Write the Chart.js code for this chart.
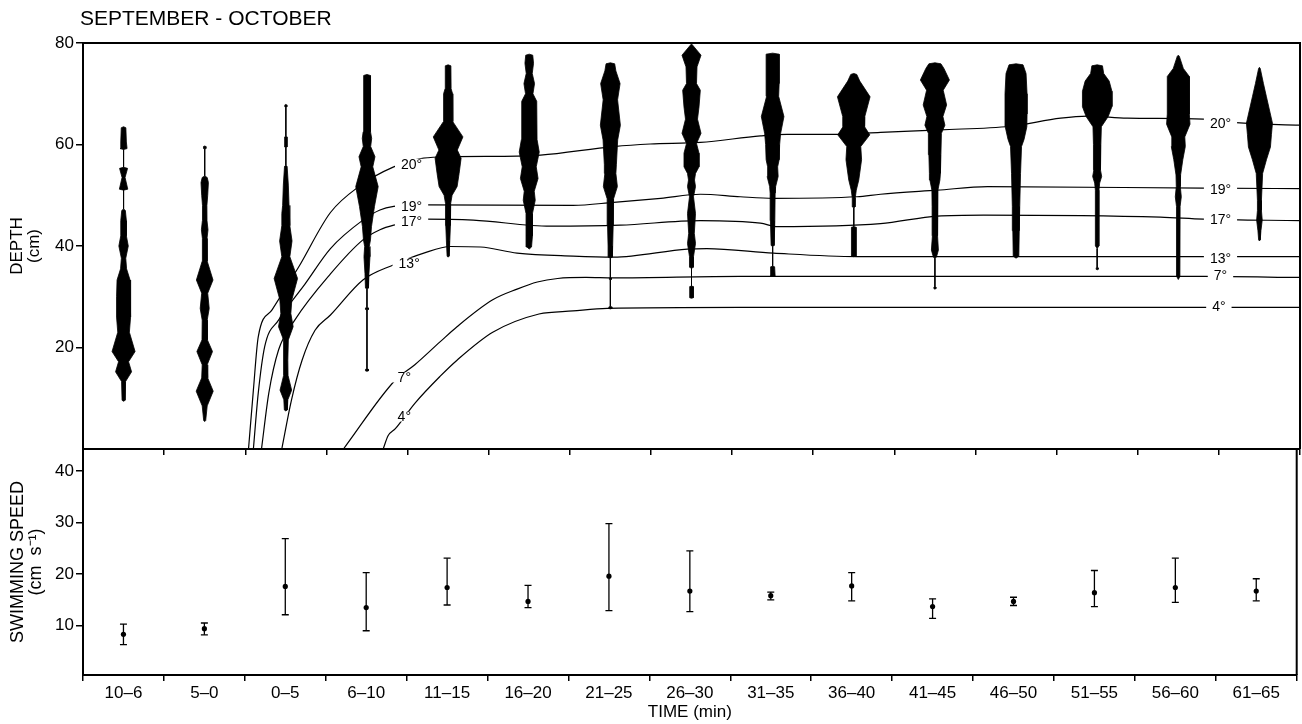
<!DOCTYPE html>
<html>
<head>
<meta charset="utf-8">
<script src="https://cdn.jsdelivr.net/npm/chart.js@4.4.0/dist/chart.umd.min.js"></script>
<style>
  html, body { margin: 0; padding: 0; background: #fff; }
  #wrap { position: relative; width: 1302px; height: 724px; }
  canvas { position: absolute; left: 0; }
  #depthChart { top: 0; }
  #speedChart { top: 440px; }
</style>
</head>
<body>
<div id="wrap">
  <canvas id="depthChart" width="1302" height="456"></canvas>
  <canvas id="speedChart" width="1302" height="284"></canvas>
</div>
<script>
// Time classes (min relative to exposure)
const categories = ['10–6', '5–0', '0–5', '6–10', '11–15', '16–20', '21–25', '26–30',
    '31–35', '36–40', '41–45', '46–50', '51–55', '56–60', '61–65'];

const figureTitle = 'SEPTEMBER - OCTOBER';
const depthTicks = [20, 40, 60, 80];
const speedTicks = [10, 20, 30, 40];

// Swimming speed (cm s-1): mean and range ends
const speedMean = [8.3, 9.4, 17.6, 13.5, 17.4, 14.7, 19.6, 16.7, 15.8, 17.7, 13.7, 14.7, 16.4, 17.4, 16.7];
const speedLow  = [6.3, 8.2, 12.1, 9.0, 14.0, 13.5, 12.9, 12.7, 15.0, 14.8, 11.4, 13.9, 13.7, 14.5, 14.8];
const speedHigh = [10.3, 10.5, 26.9, 20.3, 23.1, 17.8, 29.8, 24.5, 16.5, 20.3, 15.2, 15.5, 20.7, 23.1, 19.1];

// Depth distributions (kite diagrams): [depth cm, half-width in % of fish]
const kite10_6 = [[63.5,0],[63.3,2.3],[60.5,2.8],[59.2,3.5],[59,0],
    [55.5,0],[55.3,4],[53.5,1.5],[51.2,4.2],[51,0],
    [47.3,0],[47,1.8],[45,2.8],[42,2.8],[40,4.7],[37.6,2.2],[35.5,3],[33.3,6.5],[30,7],[26,7],
    [23,5.8],[19.2,11.5],[17.2,5],[15.2,8],[13.3,2],[9.6,1.5],[9.4,0]];
const kite5_0 = [[59.7,0],[59.6,1.2],[59.2,1.2],[59.1,0],
    [53.8,0],[53.5,2.5],[52.5,3.7],[50,3],[48,2.2],[45,2.3],[43.2,3.3],[41.5,2.3],[37,2.5],[33.3,8.3],
    [30.7,3],[27.7,4.5],[25.4,2.5],[21.5,2.7],[19.2,7.8],[16.6,2.5],[14,3],[11.4,8.5],[8.5,2.5],[5.6,1],[5.4,0]];
const kite0_5 = [[67.9,0],[67.8,1],[67.4,1],[67.3,0],
    [61.6,0],[61.5,1.2],[59.5,1.2],[59.4,0],
    [55.9,0],[55.7,1.3],[52,2.5],[48,3.2],[46.4,4],[44,4],[41,6.2],[37.9,4],[33.6,11.7],[29.4,6],
    [26.7,5],[24.1,7.3],[21.5,2.5],[17.5,2],[14.5,2.2],[11.6,5.8],[9.7,2],[7.7,1.5],[7.5,0]];
const kite6_10 = [[73.8,0],[73.6,3.3],[66,3.3],[62.5,3.8],[61.2,4.7],[59.6,3.7],[57.6,8],[55.6,5.8],
    [51.7,11.2],[47.8,7.5],[43.8,4.5],[41.2,3.5],[39.9,2.3],[37.9,3],[34.6,2],[31.7,1.5],[31.5,0],
    [27.9,0],[27.8,1.5],[27.5,1.5],[27.4,0],
    [15.8,0],[15.7,1.5],[15.4,1.5],[15.3,0]];
const kite11_15 = [[75.7,0],[75.5,2.8],[71,3],[70,4.5],[64.5,4.7],[61.5,14.8],[58.9,9.2],[57.3,13],
    [54.3,11],[51.7,9],[50,4],[48.4,2.6],[44,2.3],[41,1.7],[38,1],[37.8,0]];
const kite16_20 = [[77.8,0],[77.6,3.5],[76,4.3],[74,3],[72,5.3],[70,3.7],[68.5,7.5],[61,7.8],[58.5,10],
    [55.6,7],[53.3,8.8],[50.8,5],[49,6],[46.4,3.2],[42,3.2],[39.8,2.3],[39.4,0]];
const kite21_25 = [[76.1,0],[75.9,4.3],[74.5,5.5],[72,9.7],[68.8,7.2],[63.8,10],[60.9,7.3],[56,6],
    [54.3,5.5],[51.7,7],[49.3,3.2],[44,2.8],[40,2.3],[37.8,2],[37.6,0],
    [33.8,0],[33.7,1],[33.4,1],[33.3,0],
    [28.1,0],[28,1.5],[27.7,1.5],[27.6,0]];
const kite26_30 = [[79.8,0],[79.6,1],[77.6,9.5],[75.3,5.5],[72,5],[70.7,8.8],[67.4,7.5],[65,6],[62.2,9.5],
    [60.2,5],[58.3,7.5],[55.6,7.5],[54.3,4],[53,3],[51.7,4],[49.7,2],[46.4,4],[42.5,2.8],[40.5,4],
    [37.9,2],[35.8,1.8],[35.6,0],
    [32.1,0],[32,1.8],[29.8,1.8],[29.7,0]];
const kite31_35 = [[78,0],[77.8,6.5],[72,6.5],[69.5,6],[65.5,11.3],[62.2,8],[60,7],[57,6.5],[55.6,5],
    [53.7,5.5],[51.7,3],[50.4,2.5],[45,2.2],[40.1,1.5],[39.9,0],
    [36,0],[35.9,2],[34.1,2.5],[34,0]];
const kite36_40 = [[74,0],[73.8,3],[72.5,6],[69.4,16.3],[65.5,11],[63.5,10.8],[61.9,16],[59.6,7],[57,7.8],
    [53,5],[51,2.5],[49.5,1.5],[47.7,1.3],[47.5,0],
    [43.8,0],[43.7,2.3],[38,2.3],[37.9,0]];
const kite41_45 = [[76.1,0],[75.9,6],[75,9],[72.7,14.5],[70.7,8.3],[67.8,11.7],[65.5,8],[63.8,10],[62.2,6.5],
    [58,6],[54.3,5.5],[53,5],[51,3],[47.8,2.8],[42,2.5],[39.2,3.5],[37.8,1.5],[37.6,0],
    [32,0],[31.9,1],[31.6,1],[31.5,0]];
const kite46_50 = [[75.9,0],[75.7,7],[74,10],[70,11],[66,11],[63.5,10.8],[61,8],[59.6,5.5],[54.3,4.5],
    [47.8,3.7],[43,3.2],[38,2.8],[37.6,0]];
const kite51_55 = [[75.7,0],[75.5,5.3],[74,6.5],[72.5,12],[70.5,14.7],[67.5,14.8],[65.5,11],[63.5,4.2],
    [60,3.7],[55,3.3],[53.7,4.5],[52.4,2.5],[51,1.8],[40,1.7],[39.5,0],
    [35.8,0],[35.7,1],[35.4,1],[35.3,0]];
const kite56_60 = [[77.6,0],[77.4,1],[75,5],[73.4,11],[66,11],[64,11.7],[61.5,6.5],[59.6,7],[57,4.5],
    [54,2.3],[51.7,2],[49.7,3],[47.8,1.8],[34,1.6],[33.4,0]];
const kite61_65 = [[75.2,0],[75,0.8],[72,4],[69.4,7],[64.2,13],[62,12],[59.5,11],[57,7],[54.3,3.2],
    [49,2],[47,2],[45.1,2.8],[43,1.5],[41.2,0.8],[41,0]];

const kites = [kite10_6, kite5_0, kite0_5, kite6_10, kite11_15, kite16_20, kite21_25, kite26_30,
    kite31_35, kite36_40, kite41_45, kite46_50, kite51_55, kite56_60, kite61_65];

// Isotherms: [time class index, depth cm]
const iso20 = [[1.54,0],[1.60,11.6],[1.66,22.1],[1.83,27.4],[2.16,35.9],[2.55,46.6],[2.90,51.7],[3.33,55.6],
    [3.70,57.3],[4.03,57.6],[4.85,57.7],[5.14,57.9],[6.04,59.6],[6.49,60.1],[7.11,60.4],[7.85,61.7],
    [8.18,62],[8.83,62],[9.33,62.4],[10.07,62.9],[10.93,63.6],[11.55,65.2],[11.88,65.6],[12.37,65.2],
    [13.31,65],[13.71,64.3],[14.5,63.8]];
const iso19 = [[1.60,0],[1.66,11],[1.74,20.2],[1.91,25.4],[2.24,32.6],[2.55,39.5],[2.95,45.1],[3.16,47.1],
    [3.33,47.8],[3.72,48.1],[5.54,48],[6.04,48.6],[6.62,49.4],[7.11,50.2],[7.60,49.7],[8.01,49.4],
    [9.04,49.7],[9.33,50.2],[10.03,51],[10.65,51.7],[13.31,51.4],[14.5,51.3]];
const iso17 = [[1.70,0],[1.79,11],[1.91,19.5],[2.11,25.4],[2.55,34.5],[2.95,41.2],[3.16,43.2],[3.33,44.1],
    [3.72,45.3],[4.31,45.1],[5.26,43.9],[6.12,44.1],[7.11,45],[7.85,44.5],[8.06,43.8],[9.33,44.4],
    [10.03,45.9],[10.60,46.1],[12.78,45.7],[13.31,45.3],[14.5,45]];
const iso13 = [[1.95,0],[2.07,9.7],[2.20,17.5],[2.36,23.4],[2.55,26.4],[2.95,33.3],[3.33,36.3],[3.70,38.6],
    [4.03,39.9],[4.40,39.8],[4.85,38.6],[5.54,38],[6.04,37.8],[6.95,39.4],[7.19,39.5],[8.01,38.6],
    [9.04,37.9],[14.5,37.9]];
const iso7 = [[2.71,0],[3.35,13.6],[3.59,16.6],[3.90,21.1],[4.11,24.1],[4.55,29.4],[4.85,31.5],[5.10,32.9],
    [5.35,33.6],[5.70,33.8],[6.04,33.7],[7.60,34],[13.31,34],[14.5,33.8]];
const iso4 = [[3.20,0],[3.26,2.6],[3.35,4],[3.59,9],[3.90,14.3],[4.11,17.5],[4.55,23],[5.12,26.6],
    [5.54,27.2],[5.96,27.7],[7.60,27.9],[14.5,27.9]];

const isotherms = [iso20, iso19, iso17, iso13, iso7, iso4];
const isoNames = ['20°', '19°', '17°', '13°', '7°', '4°'];
// where the labels sit, [time class index, depth]
const isoLabelLeft  = [[3.55,56.2],[3.55,47.8],[3.55,44.8],[3.52,36.7],[3.46,14.1],[3.46,6.4]];
const isoLabelRight = [[13.52,64.3],[13.52,51.3],[13.52,45.3],[13.52,37.7],[13.52,34.2],[13.50,28.2]];

const KITE_SCALE = 1 / 81;   // time-class units per % of fish
const FONT = '"Liberation Sans", Arial, Helvetica, sans-serif';

Chart.defaults.font.family = FONT;
Chart.defaults.color = '#000';

function kiteOutline(profile, center) {
    const right = profile.map(([d, w]) => ({ x: center + w * KITE_SCALE, y: d }));
    const left = profile.slice().reverse().map(([d, w]) => ({ x: center - w * KITE_SCALE, y: d }));
    return right.concat(left);
}

const framePlugin = {
    id: 'frame',
    afterDraw(chart) {
        const { ctx, chartArea: a } = chart;
        ctx.save();
        ctx.strokeStyle = '#000';
        ctx.lineWidth = 2;
        ctx.beginPath();
        ctx.moveTo(a.left, a.top);
        ctx.lineTo(a.right, a.top);
        ctx.lineTo(a.right, a.bottom);
        ctx.stroke();
        ctx.restore();
    }
};

const titlePlugin = {
    id: 'panelTitle',
    afterDraw(chart) {
        const { ctx, chartArea } = chart;
        ctx.save();
        ctx.font = '21px ' + FONT;
        ctx.fillStyle = '#000';
        ctx.textBaseline = 'alphabetic';
        ctx.fillText(figureTitle, chartArea.left - 3, chartArea.top - 18);
        ctx.restore();
    }
};

const isoLabelPlugin = {
    id: 'isoLabels',
    afterDatasetsDraw(chart) {
        const { ctx, scales: { x, y } } = chart;
        ctx.save();
        ctx.font = '14px ' + FONT;
        ctx.textAlign = 'center';
        ctx.textBaseline = 'middle';
        isoNames.forEach((name, i) => {
            [isoLabelLeft[i], isoLabelRight[i]].forEach(([t, d]) => {
                const px = x.getPixelForValue(t);
                const py = y.getPixelForValue(d);
                const w = ctx.measureText(name).width + 12;
                ctx.fillStyle = '#fff';
                ctx.fillRect(px - w / 2, py - 5, w, 10);
                ctx.fillStyle = '#000';
                ctx.fillText(name, px, py + 1);
            });
        });
        ctx.restore();
    }
};

function timeAxis(showLabels, height) {
    return {
        type: 'linear',
        min: -0.5,
        max: 14.5,
        afterBuildTicks: (scale) => { scale.ticks = categories.map((c, i) => ({ value: i })); },
        afterFit: (scale) => {
            scale.height = height;
            scale.paddingLeft = 0;
            scale.paddingRight = 0;
        },
        ticks: {
            display: showLabels,
            autoSkip: false,
            maxRotation: 0,
            padding: 2,
            font: { size: 17 },
            callback: (value) => categories[value]
        },
        grid: { offset: true, drawOnChartArea: false, drawTicks: true, tickLength: 6, color: '#000', lineWidth: 1.5 },
        border: { display: true, color: '#000', width: 2 },
        title: {
            display: showLabels,
            text: 'TIME (min)',
            font: { size: 17, lineHeight: 1.0 },
            padding: { top: 0, bottom: 3 }
        }
    };
}

function valueAxis(min, max, tickValues, titleLines, titleSize, titlePad) {
    return {
        type: 'linear',
        min: min,
        max: max,
        afterBuildTicks: (scale) => { scale.ticks = tickValues.map(v => ({ value: v })); },
        afterFit: (scale) => {
            scale.width = 83;
            scale.paddingTop = 0;
            scale.paddingBottom = 0;
        },
        ticks: { padding: 2, font: { size: 17 } },
        grid: { drawOnChartArea: false, drawTicks: true, tickLength: 7, color: '#000', lineWidth: 1.5 },
        border: { display: true, color: '#000', width: 2 },
        title: {
            display: true,
            text: titleLines,
            font: { size: titleSize, lineHeight: 1.0 },
            padding: { top: titlePad, bottom: 0 }
        }
    };
}

const baseOptions = {
    responsive: false,
    animation: false,
    devicePixelRatio: 1,
    events: [],
    plugins: { legend: { display: false }, tooltip: { enabled: false } }
};

// Depth panel
const depthDatasets = kites.map((profile, i) => ({
    data: kiteOutline(profile, i),
    borderColor: '#000',
    borderWidth: 0.8,
    backgroundColor: '#000',
    fill: 'shape',
    pointRadius: 0,
    tension: 0
})).concat(isotherms.map(line => ({
    data: line.map(([t, d]) => ({ x: t, y: d })),
    borderColor: '#000',
    borderWidth: 1.2,
    fill: false,
    pointRadius: 0,
    cubicInterpolationMode: 'monotone'
})));

new Chart(document.getElementById('depthChart'), {
    type: 'line',
    data: { datasets: depthDatasets },
    options: {
        ...baseOptions,
        layout: { padding: { top: 43, right: 2, left: 0, bottom: 0 } },
        scales: {
            x: timeAxis(false, 7),
            y: valueAxis(0, 80, depthTicks, ['DEPTH', '(cm)'], 17, 8.5)
        }
    },
    plugins: [isoLabelPlugin, framePlugin, titlePlugin]
});

// Swimming speed panel
const errorBarData = speedLow.flatMap((lo, i) => [
    { x: i, y: lo }, { x: i, y: speedHigh[i] }, { x: i, y: null }
]);

new Chart(document.getElementById('speedChart'), {
    type: 'line',
    data: {
        datasets: [
            {
                data: errorBarData,
                borderColor: '#000',
                borderWidth: 1.3,
                spanGaps: false,
                pointStyle: 'line',
                pointRadius: 3.5,
                pointBorderWidth: 1.3,
                pointBorderColor: '#000'
            },
            {
                data: speedMean.map((m, i) => ({ x: i, y: m })),
                showLine: false,
                pointRadius: 2.6,
                pointBorderWidth: 0,
                pointBackgroundColor: '#000'
            }
        ]
    },
    options: {
        ...baseOptions,
        layout: { padding: { top: 9, right: 2, left: 0, bottom: 0 } },
        scales: {
            x: timeAxis(true, 49),
            y: valueAxis(0.4, 44.3, speedTicks, ['SWIMMING SPEED', '(cm  s⁻¹)'], 18, 9.5)
        }
    },
    plugins: [framePlugin]
});
</script>
</body>
</html>
